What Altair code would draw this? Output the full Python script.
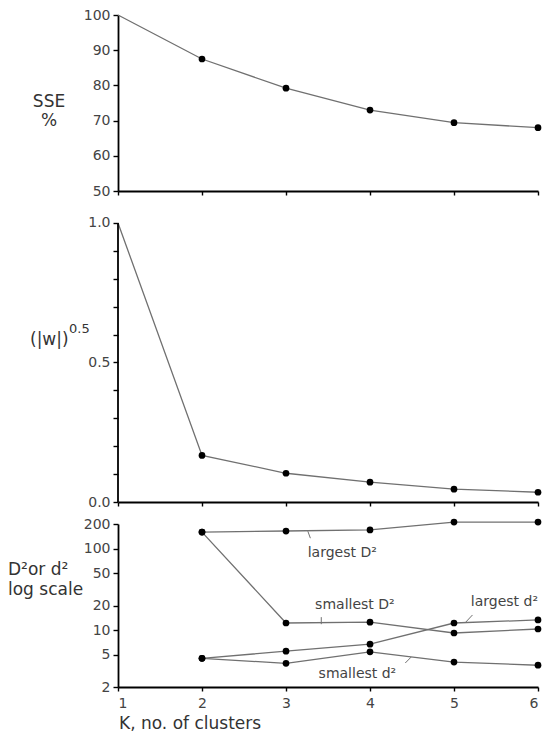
import altair as alt
import pandas as pd

# ---- data ----
K = [1, 2, 3, 4, 5, 6]
sse_pct = [100, 87.5, 79.2, 73.0, 69.4, 68.0]
w_root = [1.0, 0.167, 0.103, 0.071, 0.046, 0.035]

K_d = [2, 3, 4, 5, 6]
largest_D2 = [159, 164, 169, 211, 211]
smallest_D2 = [159, 12.2, 12.5, 9.2, 10.3]
largest_d2 = [4.5, 5.5, 6.7, 12.2, 13.3]
smallest_d2 = [4.5, 3.9, 5.4, 4.05, 3.7]

series_names = ["largest D²", "smallest D²", "largest d²", "smallest d²"]

# annotation label positions (data units)
label_K = [3.67, 3.82, 6.0, 3.85]
label_val = [88, 20.5, 22, 2.85]

# small leader lines (data units)
leader_K1 = [3.26, 3.42, 5.14, 4.42]
leader_K2 = [3.29, 3.42, 5.22, 4.49]
leader_v1 = [163, 14.4, 12.5, 3.94]
leader_v2 = [134, 11.8, 15.3, 4.66]

# axis ticks
x_ticks = [1, 2, 3, 4, 5, 6]
sse_ticks = [50, 60, 70, 80, 90, 100]
w_ticks = [0.0, 0.1, 0.2, 0.3, 0.4, 0.5, 0.6, 0.7, 0.8, 0.9, 1.0]
d_ticks = [2, 5, 10, 20, 50, 100, 200]

FONT = "DejaVu Sans"
LINE = "#707070"
W = 420

xscale = alt.Scale(domain=[1, 6], nice=False, zero=False)


def xaxis(labels):
    if labels:
        return alt.Axis(values=x_ticks, title=None, format="d", labelPadding=5,
                        labelFlush=True, tickSize=4)
    return alt.Axis(values=x_ticks, title=None, labels=False, tickSize=4)


def text_at(txt, x, y, size, align="left"):
    return alt.Chart(pd.DataFrame({"t": [txt]})).mark_text(
        align=align, baseline="alphabetic", font=FONT, fontSize=size, color="#333"
    ).encode(x=alt.value(x), y=alt.value(y), text="t:N")


# ---- top panel: SSE % ----
df1 = pd.DataFrame({"K": K, "v": sse_pct})
y1 = alt.Y("v:Q", scale=alt.Scale(domain=[50, 100], nice=False, zero=False),
           axis=alt.Axis(values=sse_ticks, title=None))
x1 = alt.X("K:Q", scale=xscale, axis=xaxis(False))
top = alt.layer(
    alt.Chart(df1).mark_line(color=LINE, strokeWidth=1.3).encode(x=x1, y=y1),
    alt.Chart(df1[df1.K > 1]).mark_circle(color="black", opacity=1, size=45).encode(x=x1, y=y1),
    text_at("SSE", -69, 92, 17, "center"),
    text_at("%", -69, 111, 17, "center"),
).properties(width=W, height=176)

# ---- middle panel: (|w|)^0.5 ----
df2 = pd.DataFrame({"K": K, "v": w_root})
w_scale = alt.Scale(domain=[0, 1.0358], nice=False, zero=False)
w_axis = alt.Axis(values=w_ticks, title=None, domain=False, labelOverlap=False,
                  labelExpr="(datum.value == 0 || datum.value == 0.5 || datum.value == 1) ? format(datum.value, '.1f') : ''")
y2 = alt.Y("v:Q", scale=w_scale, axis=w_axis)
x2 = alt.X("K:Q", scale=xscale, axis=xaxis(False))
yline = alt.Chart(pd.DataFrame({"K": [1], "lo": [0.0], "hi": [1.0]})).mark_rule(
    color="black", strokeWidth=1.8).encode(
    x=alt.X("K:Q", scale=xscale, axis=xaxis(False)),
    y=alt.Y("lo:Q", scale=w_scale, axis=w_axis), y2="hi:Q")
mid = alt.layer(
    alt.Chart(df2).mark_line(color=LINE, strokeWidth=1.3).encode(x=x2, y=y2),
    yline,
    alt.Chart(df2[df2.K > 1]).mark_circle(color="black", opacity=1, size=45).encode(x=x2, y=y2),
    text_at("(|w|)", -88, 132, 17),
    text_at("0.5", -49, 120, 13),
).properties(width=W, height=289)

# ---- bottom panel: D^2 / d^2, log scale ----
rows = []
for name, vals in zip(series_names, [largest_D2, smallest_D2, largest_d2, smallest_d2]):
    for k, v in zip(K_d, vals):
        rows.append({"K": k, "v": v, "s": name})
df3 = pd.DataFrame(rows)
y3s = alt.Scale(type="log", domain=[2, 200], nice=False)
d_axis = alt.Axis(values=d_ticks, title=None, format="d")
y3 = alt.Y("v:Q", scale=y3s, axis=d_axis)
x3 = alt.X("K:Q", scale=xscale, axis=xaxis(True))

lab = pd.DataFrame({"K": label_K, "v": label_val, "t": series_names})
leaders = pd.DataFrame({"K": leader_K1, "K2": leader_K2, "v": leader_v1, "v2": leader_v2})

bot = alt.layer(
    alt.Chart(df3).mark_line(color=LINE, strokeWidth=1.3).encode(x=x3, y=y3, detail="s:N"),
    alt.Chart(df3).mark_circle(color="black", opacity=1, size=45).encode(x=x3, y=y3),
    alt.Chart(leaders).mark_rule(color=LINE, strokeWidth=1).encode(
        x=x3, x2="K2:Q", y=y3, y2="v2:Q"),
    alt.Chart(lab[lab.t != "largest d²"]).mark_text(
        align="center", baseline="middle", font=FONT, fontSize=14, color="#444"
    ).encode(x=x3, y=y3, text="t:N"),
    alt.Chart(lab[lab.t == "largest d²"]).mark_text(
        align="right", baseline="middle", font=FONT, fontSize=14, color="#444"
    ).encode(x=x3, y=y3, text="t:N"),
    text_at("D²or d²", -110, 51, 17),
    text_at("log scale", -110, 71, 17),
    text_at("K, no. of clusters", 1, 205, 17),
).properties(width=W, height=163)

chart = alt.vconcat(top, mid, bot, spacing=22, bounds="flush").properties(
    padding={"left": 0, "top": 0, "right": 0, "bottom": 0}
).configure_view(stroke=None).configure_axis(
    grid=False, domainColor="black", domainWidth=1.8, tickColor="black", tickWidth=1.4,
    tickSize=5, labelFont=FONT, labelFontSize=14, labelColor="#444", labelPadding=3
)

chart.save("out.html", embed_options={"renderer": "svg", "actions": False})
